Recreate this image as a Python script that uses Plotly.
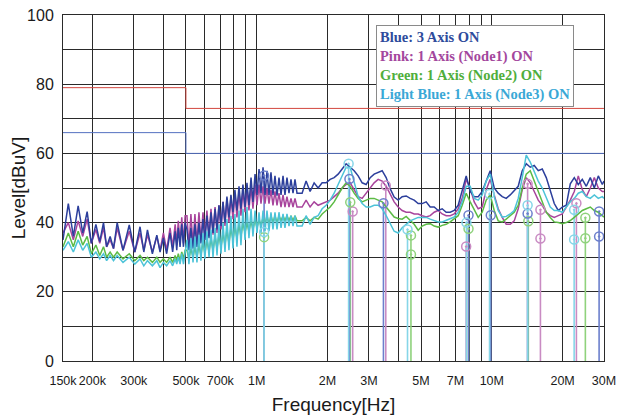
import math
import plotly.graph_objects as go

# ---------------- data (frequency in kHz, level in dBuV) ----------------
freq_a = [150, 158, 166, 174, 182, 190, 198, 207, 215, 223, 230, 238, 246, 255, 270, 287,
          303, 319, 331, 343, 360, 376, 388, 401, 414, 428, 439, 450, 457, 464, 472, 480, 488, 496]
freq_b = [505, 515, 525, 536, 546, 557, 568, 579, 591, 602, 614, 627, 639, 652, 665, 678,
          691, 705, 719, 733, 747, 762, 777, 793, 808, 824, 841, 857, 874, 892, 909, 927,
          946, 964, 984, 1003, 1023, 1043, 1064, 1085, 1106, 1128, 1150, 1173, 1196, 1220,
          1244, 1269, 1294, 1319, 1345, 1372, 1399, 1427, 1455, 1484]
freq_c = [1560, 1622, 1687, 1755, 1825, 1898, 1974, 2053, 2135, 2220, 2309, 2401, 2497, 2597,
          2701, 2809, 2921, 3038, 3159, 3285, 3417, 3553, 3695, 3843, 3997, 4156, 4323, 4495,
          4675, 4862, 5056, 5258, 5469, 5687, 5915, 6151, 6397, 6653, 6919, 7195, 7483, 7782,
          8093, 8417, 8753, 9103, 9467, 9845, 10239, 10648, 11074, 11517, 11977, 12456, 12954,
          13472, 14011, 14571, 15154, 15760, 16390, 17046, 17727, 18436, 19174, 19940, 20738,
          21567, 22430, 23327, 24260, 25230, 26239, 27289, 28380, 29515, 30000]

blue_a = [35, 45.5, 36, 44.8, 37, 43.2, 34, 39.5, 34.5, 40, 33, 36, 32.5, 40, 32, 39.3, 31.5,
          38.8, 31.5, 37.9, 31, 36.4, 31.5, 35.5, 31, 37, 31.5, 37.5, 32, 38.5, 33, 39.5, 33, 40]
blue_b = [38, 32, 38.5, 32.5, 39.5, 33, 40, 34, 41, 35, 42, 35.5, 43, 37, 44, 38, 45, 39, 46, 40,
          47.5, 41.5, 48, 43, 49.5, 43.5, 50.5, 44, 51, 44.5, 51.5, 45, 53, 46, 54, 48, 55.5, 48.5,
          56, 48, 55, 48, 54.5, 48, 53.5, 47.8, 53, 48, 53.5, 48, 53, 48.5, 52.5, 48.5, 52.5, 48.5]
blue_c = [48.5, 52, 49, 51.5, 50, 51.5, 51.5, 52.5, 53, 54, 55.5, 57, 56, 55, 53.5, 51.5, 51, 53,
          54, 54.5, 55, 53, 49.8, 47.4, 46.5, 47.5, 47.7, 47, 46.5, 45.5, 45.5, 46, 44.5, 44.5,
          43.5, 44, 43, 43, 43.5, 45, 49, 53.5, 49, 47.5, 47.5, 49, 52, 55, 50, 48.5, 47.5, 47,
          48, 49.3, 50.5, 55, 57, 56, 56.5, 55, 55.5, 53, 49.3, 45.5, 43.5, 44.5, 45, 51.2, 53,
          51, 52.5, 50.5, 53, 50, 53.5, 51, 52]

pink_a = [37, 40, 35, 40.5, 36, 41, 34, 38, 34, 38.5, 33, 35, 32.5, 38.5, 32, 37.5, 31.5, 37,
          32, 36.5, 31.5, 36, 32, 37, 32, 38.5, 33, 39.5, 33.5, 40.5, 34, 41.5, 34, 42]
pink_b = [42, 33, 42.5, 33.5, 42.5, 34, 43, 34.5, 43, 35, 43.5, 36, 44, 36.5, 44.5, 37, 45, 38,
          46, 39, 47, 40, 47.5, 41, 48.5, 41.5, 49, 42, 49.5, 43, 50, 43.5, 50.5, 44, 51, 45, 51,
          45.5, 50.5, 45.5, 50, 45.5, 49.5, 45, 49, 45, 48.5, 44.5, 48, 44.5, 47.5, 44.5, 47,
          44.5, 47, 44.5]
pink_c = [44.5, 46.5, 44.5, 46, 45, 45.5, 46, 46.5, 47.5, 48.5, 50, 51, 51.5, 49.5, 47.5, 47,
          48.5, 50, 51.5, 52.5, 52, 50.5, 48, 46, 44.5, 43.5, 43, 43, 42.5, 42.5, 42, 41.6, 42,
          43, 43.5, 42.5, 42, 42, 42.5, 44, 47, 52.5, 50, 46, 44, 44.5, 49.5, 52.5, 48, 44, 41.5,
          39.5, 39.5, 40.5, 44, 49.5, 53, 51.5, 49, 46.5, 45, 43, 42, 41.5, 42, 42.5, 44.5, 46.5,
          49, 53.5, 49.5, 47.5, 50, 53, 50, 49, 49]

green_a = [33, 37, 33, 37.5, 33.5, 36, 31, 33.5, 30.5, 33, 30, 31.5, 30, 31.5, 29.5, 31, 29,
           30.5, 29, 30, 28.5, 30, 28.5, 29.5, 28.5, 30, 28.5, 30.5, 29, 31, 29, 31.5, 29.5, 32]
green_b = [32, 29.5, 32.5, 30, 33, 30, 33.5, 30.5, 34.5, 31, 35, 31.5, 35.5, 32, 36, 32.5, 36.5,
           33, 37, 33.5, 38, 34, 38.5, 35, 39, 35.5, 39.5, 36, 40, 37, 40, 37.5, 40.5, 38, 41,
           38.5, 41, 39, 41.5, 39.5, 42, 39.5, 42, 40, 42, 40, 42, 40.5, 42, 40.5, 42, 40.5, 42,
           40.5, 42, 40.5]
green_c = [40.5, 41.5, 40.5, 41.5, 41, 42.5, 43.5, 44.5, 46, 48, 50, 51.5, 50.5, 48.5, 47, 46,
           46.5, 47, 47, 46.5, 46, 44.5, 43, 41.6, 41.2, 41, 41.8, 40.5, 39.5, 37.8, 39, 39.5,
           39.7, 39, 38.7, 39.2, 39.5, 40.2, 41, 42, 45, 48.5, 46, 43.5, 41.5, 43, 46.5, 48,
           43.5, 40.5, 40.2, 41, 42, 43, 45, 50, 54, 55, 52, 49, 46, 43, 41.5, 40.2, 40, 39.7,
           40, 40.6, 41.5, 42.6, 43.5, 44, 44.5, 43.5, 43, 42, 41.6]

cyan_a = [32, 34.5, 31.5, 35, 32, 34, 30, 31.5, 29.5, 31, 29, 30.5, 29, 30.5, 28.5, 30, 28,
          29.5, 27.5, 29, 27.5, 29, 27, 28.5, 27.5, 29, 27.5, 29.5, 28, 30, 28, 31, 28, 31.5]
cyan_b = [35, 28, 35.5, 28.5, 36, 28.5, 36.5, 29, 37, 29.5, 37.5, 30, 38, 30, 38.5, 30.5, 39.5,
          31, 40, 31.5, 41, 32, 42, 32.5, 42.5, 33, 43.5, 33.5, 44, 35, 44.5, 35.5, 44, 36, 43.5,
          37, 43, 37, 43.5, 37.5, 43.5, 37.5, 43, 38, 43, 38, 43, 38.5, 42.5, 38.5, 42.5, 39, 42,
          39, 42, 39]
cyan_c = [39, 42, 39.5, 41.5, 42, 44, 45, 46.5, 48.5, 51, 53.5, 56, 56, 51.5, 47.5, 45.5, 44.5,
          44.5, 45, 45, 44, 42, 39.5, 37.5, 37, 38.5, 39.5, 40.5, 41, 41.5, 41.5, 41.5, 41, 40.5,
          40.2, 40.2, 40.6, 41, 41.6, 43, 46, 50.5, 50.5, 47, 46.5, 48, 52, 54, 47.5, 43.5, 41.6,
          41.8, 42.5, 43.5, 47, 53, 59.5, 57.5, 54.5, 52, 50, 47, 44.5, 43.5, 43.5, 43, 44.5, 46,
          47, 48.5, 49, 47.5, 47, 48, 47, 47.5, 47]

# peak markers (kHz, dBuV)
blue_mk_f = [1075, 2480, 3460, 7960, 9900, 14200, 28600, 28600]
blue_mk_v = [53.6, 52.6, 45.6, 42.1, 42.1, 42.6, 43.2, 36.0]
pink_mk_f = [2560, 3540, 7780, 14200, 16100, 16100, 22900]
pink_mk_v = [43.2, 50.7, 33.1, 51.2, 43.7, 35.4, 45.6]
green_mk_f = [1075, 2500, 4530, 4530, 7960, 14300, 25000, 25000]
green_mk_v = [35.8, 45.9, 36.3, 30.8, 38.2, 40.4, 41.4, 35.5]
cyan_mk_f = [1075, 2460, 4380, 7800, 9780, 14200, 22400, 22400]
cyan_mk_v = [37.3, 57.0, 38.0, 40.0, 48.3, 45.0, 43.7, 35.1]

# limit lines
limit_f = [150, 500, 500, 30000]
limit_qp = [79, 79, 73, 73]
limit_av = [66, 66, 60, 60]

x_ticks = [150, 200, 300, 500, 700, 1000, 2000, 3000, 5000, 7000, 10000, 20000, 30000]
x_labels = ["150k", "200k", "300k", "500k", "700k", "1M", "2M", "3M", "5M", "7M", "10M", "20M", "30M"]
x_minor = [400, 600, 800, 900, 4000, 6000, 8000, 9000]
y_ticks = [0, 20, 40, 60, 80, 100]

legend_lines = ["Blue: 3 Axis ON", "Pink: 1 Axis (Node1) ON",
                "Green: 1 Axis (Node2) ON", "Light Blue: 1 Axis (Node3) ON"]

# ---------------- build ----------------
freq = freq_a + freq_b + freq_c
series = {
    "blue": blue_a + blue_b + blue_c,
    "pink": pink_a + pink_b + pink_c,
    "green": green_a + green_b + green_c,
    "cyan": cyan_a + cyan_b + cyan_c,
}
for k, v in series.items():
    assert len(v) == len(freq), (k, len(v), len(freq))

col = {"blue": "#2c3f9c", "pink": "#a8449c", "green": "#5cbb45", "cyan": "#4cc3d8"}
line_col = {"blue": "#6c7fcc", "pink": "#c98bc3", "green": "#8fd27c", "cyan": "#86d6e8"}
text_col = {"blue": "#2e4b9c", "pink": "#a3479d", "green": "#4fae3c", "cyan": "#3aa8d6"}
markers = {
    "blue": (blue_mk_f, blue_mk_v), "pink": (pink_mk_f, pink_mk_v),
    "green": (green_mk_f, green_mk_v), "cyan": (cyan_mk_f, cyan_mk_v),
}

fig = go.Figure()

fig.add_trace(go.Scatter(x=limit_f, y=limit_qp, mode="lines",
                         line=dict(color="#d2473f", width=1), hoverinfo="skip"))
fig.add_trace(go.Scatter(x=limit_f, y=limit_av, mode="lines",
                         line=dict(color="#5470c0", width=1), hoverinfo="skip"))

for name in ["pink", "green", "blue", "cyan"]:
    mf, mv = markers[name]
    top = {}
    for f, v in zip(mf, mv):
        top[f] = max(v, top.get(f, 0))
    xs, ys = [], []
    for f, v in top.items():
        xs += [f, f, None]
        ys += [0, v, None]
    fig.add_trace(go.Scatter(x=xs, y=ys, mode="lines",
                             line=dict(color=line_col[name], width=1.6), hoverinfo="skip"))

for name in ["pink", "green", "blue", "cyan"]:
    fig.add_trace(go.Scatter(x=freq, y=series[name], mode="lines",
                             line=dict(color=col[name], width=1.5), name=name))

for name in ["pink", "green", "blue", "cyan"]:
    mf, mv = markers[name]
    fig.add_trace(go.Scatter(x=mf, y=mv, mode="markers",
                             marker=dict(symbol="circle-open-dot", size=9,
                                         color=line_col[name],
                                         line=dict(width=1.5, color=line_col[name]))))

legend_text = "<br>".join(
    f"<b><span style='color:{text_col[k]}'>{t}</span></b>"
    for k, t in zip(["blue", "pink", "green", "cyan"], legend_lines))
fig.add_annotation(xref="paper", yref="paper", x=0.578, y=0.971, xanchor="left",
                   yanchor="top", align="left", showarrow=False, text=legend_text,
                   bgcolor="white", bordercolor="#8a8a8a", borderwidth=1, borderpad=3,
                   font=dict(family="Liberation Serif, Times New Roman, serif", size=14.5))

# page body has an 8px margin, so the figure is sized to fit the 624x420 window
grid = "#2a2a2a"
fig.update_layout(
    width=616, height=412,
    margin=dict(l=55, r=20, t=7, b=59, autoexpand=False),
    plot_bgcolor="white", paper_bgcolor="white",
    showlegend=False,
    font=dict(family="Liberation Sans, Arial, sans-serif", size=16, color="#1a1a1a"),
    xaxis=dict(type="log", range=[math.log10(150), math.log10(30000) + 1e-4],
               tickmode="array", tickvals=x_ticks, ticktext=x_labels, tickangle=0,
               automargin=False, ticklabeloverflow="allow",
               showgrid=True, gridcolor=grid, gridwidth=1,
               minor=dict(tickmode="array", tickvals=x_minor, showgrid=True,
                          gridcolor=grid, gridwidth=1),
               showline=True, linecolor=grid, mirror=True, ticks="",
               tickfont=dict(family="Liberation Sans, Arial, sans-serif", size=12.5),
               ticklabelstandoff=8,
               title=dict(text="Frequency[Hz]", font=dict(size=19), standoff=10)),
    yaxis=dict(range=[0, 100], tickmode="array", tickvals=y_ticks, automargin=False,
               ticklabeloverflow="allow",
               showgrid=True, gridcolor=grid, gridwidth=1,
               minor=dict(dtick=10, showgrid=True, gridcolor=grid, gridwidth=1),
               zeroline=False, showline=True, linecolor=grid, mirror=True, ticks="",
               tickfont=dict(size=16), ticklabelstandoff=5,
               title=dict(text="Level[dBuV]", font=dict(size=19), standoff=0)),
)

fig.write_html("out.html")
